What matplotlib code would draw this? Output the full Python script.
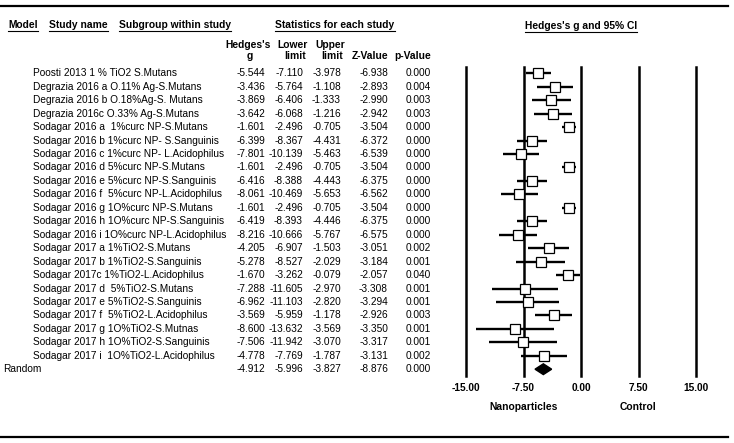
import matplotlib
matplotlib.use('Agg')
import matplotlib.pyplot as plt
import matplotlib.transforms as mtransforms

plt.rcParams['font.family'] = ['Liberation Sans', 'DejaVu Sans']

# Study rows
studies = [
    'Poosti 2013 1 % TiO2 S.Mutans',
    'Degrazia 2016 a O.11% Ag-S.Mutans',
    'Degrazia 2016 b O.18%Ag-S. Mutans',
    'Degrazia 2016c O.33% Ag-S.Mutans',
    'Sodagar 2016 a  1%curc NP-S.Mutans',
    'Sodagar 2016 b 1%curc NP- S.Sanguinis',
    'Sodagar 2016 c 1%curc NP- L.Acidophilus',
    'Sodagar 2016 d 5%curc NP-S.Mutans',
    'Sodagar 2016 e 5%curc NP-S.Sanguinis',
    'Sodagar 2016 f  5%curc NP-L.Acidophilus',
    'Sodagar 2016 g 1O%curc NP-S.Mutans',
    'Sodagar 2016 h 1O%curc NP-S.Sanguinis',
    'Sodagar 2016 i 1O%curc NP-L.Acidophilus',
    'Sodagar 2017 a 1%TiO2-S.Mutans',
    'Sodagar 2017 b 1%TiO2-S.Sanguinis',
    'Sodagar 2017c 1%TiO2-L.Acidophilus',
    'Sodagar 2017 d  5%TiO2-S.Mutans',
    'Sodagar 2017 e 5%TiO2-S.Sanguinis',
    'Sodagar 2017 f  5%TiO2-L.Acidophilus',
    'Sodagar 2017 g 1O%TiO2-S.Mutnas',
    'Sodagar 2017 h 1O%TiO2-S.Sanguinis',
    'Sodagar 2017 i  1O%TiO2-L.Acidophilus',
]
hedges_g = [-5.544, -3.436, -3.869, -3.642, -1.601, -6.399, -7.801, -1.601, -6.416, -8.061, -1.601,
            -6.419, -8.216, -4.205, -5.278, -1.670, -7.288, -6.962, -3.569, -8.600, -7.506, -4.778]
lower = [-7.110, -5.764, -6.406, -6.068, -2.496, -8.367, -10.139, -2.496, -8.388, -10.469, -2.496,
         -8.393, -10.666, -6.907, -8.527, -3.262, -11.605, -11.103, -5.959, -13.632, -11.942, -7.769]
upper = [-3.978, -1.108, -1.333, -1.216, -0.705, -4.431, -5.463, -0.705, -4.443, -5.653, -0.705,
         -4.446, -5.767, -1.503, -2.029, -0.079, -2.970, -2.820, -1.178, -3.569, -3.070, -1.787]
z_value = [-6.938, -2.893, -2.990, -2.942, -3.504, -6.372, -6.539, -3.504, -6.375, -6.562, -3.504,
           -6.375, -6.575, -3.051, -3.184, -2.057, -3.308, -3.294, -2.926, -3.350, -3.317, -3.131]
p_value = [0.000, 0.004, 0.003, 0.003, 0.000, 0.000, 0.000, 0.000, 0.000, 0.000, 0.000,
           0.000, 0.000, 0.002, 0.001, 0.040, 0.001, 0.001, 0.003, 0.001, 0.001, 0.002]

# Random-effects summary
random_g, random_lo, random_hi, random_z, random_p = -4.912, -5.996, -3.827, -8.876, 0.000

xticks = [-15, -7.5, 0, 7.5, 15]
xtick_labels = ['-15.00', '-7.50', '0.00', '7.50', '15.00']

W, H = 734, 443
fig = plt.figure(figsize=(W / 100, H / 100), dpi=100)

# text layer in pixel coords
ax = fig.add_axes([0, 0, 1, 1])
ax.set_xlim(0, W)
ax.set_ylim(H, 0)
ax.axis('off')

# forest plot axes
n = len(studies) + 1
row0, step = 73.3, 13.45
top_px = row0 - 0.5 * step
bot_px = row0 + (n - 0.5) * step
ax2 = fig.add_axes([466 / W, 1 - bot_px / H, 230 / W, (bot_px - top_px) / H])
ax2.set_xlim(-15, 15)
ax2.set_ylim(n - 0.5, -0.5)
for s in ax2.spines.values():
    s.set_visible(False)
ax2.set_yticks([])
ax2.set_xticks(xticks)
ax2.set_xticklabels(xtick_labels, fontsize=7.3, fontweight='bold')
ax2.tick_params(axis='x', length=0, pad=5)
ax2.patch.set_alpha(0)

for xv in xticks:
    ax2.axvline(xv, color='black', lw=1.8, clip_on=False)

rows = list(range(len(studies)))
for i in rows:
    ax2.plot([lower[i], upper[i]], [i, i], color='black', lw=1.7, solid_capstyle='butt')
ax2.plot(hedges_g, rows, 's', ms=7.5, mfc='white', mec='black', mew=0.9, zorder=3)

ri = len(studies)
ax2.fill([random_lo, random_g, random_hi, random_g], [ri, ri - 0.4, ri, ri + 0.4],
         color='black', zorder=3)

# table text, y in row units of the forest axes
tr = mtransforms.blended_transform_factory(ax.transData, ax2.transData)
fs = 7.25
for i, name in enumerate(studies):
    ax.text(33, i, name, transform=tr, fontsize=fs, va='center', ha='left')
    ax.text(265, i, f'{hedges_g[i]:.3f}', transform=tr, fontsize=fs, va='center', ha='right')
    ax.text(303, i, f'{lower[i]:.3f}', transform=tr, fontsize=fs, va='center', ha='right')
    ax.text(341, i, f'{upper[i]:.3f}', transform=tr, fontsize=fs, va='center', ha='right')
    ax.text(388, i, f'{z_value[i]:.3f}', transform=tr, fontsize=fs, va='center', ha='right')
    ax.text(431, i, f'{p_value[i]:.3f}', transform=tr, fontsize=fs, va='center', ha='right')

ax.text(3, ri, 'Random', transform=tr, fontsize=fs, va='center', ha='left')
for x, v in zip([265, 303, 341, 388, 431], [random_g, random_lo, random_hi, random_z, random_p]):
    ax.text(x, ri, f'{v:.3f}', transform=tr, fontsize=fs, va='center', ha='right')

# column headers
hb = dict(fontsize=7.4, fontweight='bold', va='center')
ax.text(248, 45, "Hedges's", ha='center', **hb)
ax.text(250, 55.5, 'g', ha='center', **hb)
ax.text(293, 45, 'Lower', ha='center', **hb)
ax.text(295, 55.5, 'limit', ha='center', **hb)
ax.text(330, 45, 'Upper', ha='center', **hb)
ax.text(332, 55.5, 'limit', ha='center', **hb)
ax.text(388, 55.5, 'Z-Value', ha='right', **hb)
ax.text(431, 55.5, 'p-Value', ha='right', **hb)

# underlined section headers
heads = [
    ax.text(8, 25, 'Model', ha='left', **hb),
    ax.text(49, 25, 'Study name', ha='left', **hb),
    ax.text(119, 25, 'Subgroup within study', ha='left', **hb),
    ax.text(335, 25, 'Statistics for each study', ha='center', **hb),
    ax.text(581, 26, "Hedges's g and 95% CI", ha='center', **hb),
]
fig.canvas.draw()
inv = ax.transData.inverted()
for t in heads:
    bb = t.get_window_extent()
    (x0, y0), (x1, _) = inv.transform([[bb.x0, bb.y0], [bb.x1, bb.y1]])
    ax.plot([x0, x1], [y0 + 0.5, y0 + 0.5], color='black', lw=0.8)

ax.text(524, 407, 'Nanoparticles', ha='center', **hb)
ax.text(638, 407, 'Control', ha='center', **hb)

# frame rules
ax.plot([0, 728], [6, 6], color='black', lw=1.6)
ax.plot([0, 728], [437, 437], color='black', lw=1.6)

fig.savefig('out.png', dpi=100)
